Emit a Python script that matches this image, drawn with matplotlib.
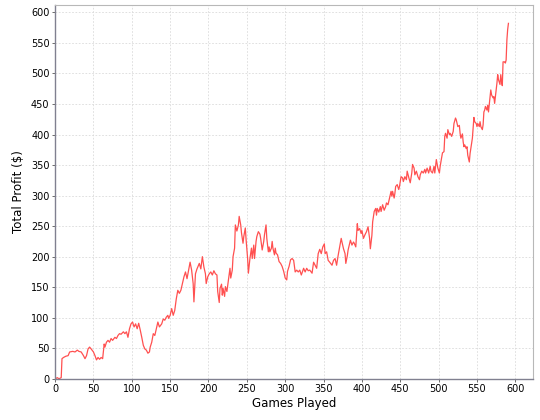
import matplotlib
matplotlib.use("Agg")
import matplotlib.pyplot as plt

# values (game number, running profit in $)
games = [0, 3, 5, 8, 9, 11, 14, 17, 19, 23, 26, 29, 31, 34, 37, 39, 41, 43, 45, 47,
         50, 52, 54, 56, 58, 60, 62, 64, 65, 67, 69, 71, 73, 75, 78, 80, 82, 84, 86, 89,
         91, 93, 95, 97, 99, 101, 103, 105, 107, 109, 111, 113, 115, 117, 119, 121, 123, 124, 126, 128,
         130, 132, 134, 136, 139, 141, 143, 145, 147, 148, 150, 152, 154, 156, 158, 160, 162, 164, 166, 168,
         170, 172, 174, 176, 178, 180, 181, 183, 185, 188, 190, 192, 194, 196, 197, 199, 201, 203, 205, 207,
         209, 211, 212, 214, 215, 217, 218, 219, 221, 222, 224, 226, 228, 229, 231, 232, 234, 235, 237, 239,
         240, 242, 243, 245, 246, 248, 249, 251, 252, 254, 256, 257, 259, 260, 262, 263, 265, 267, 268, 270,
         272, 273, 275, 276, 278, 279, 280, 282, 283, 284, 286, 287, 288, 290, 292, 294, 296, 298, 300, 302,
         303, 305, 307, 309, 311, 313, 315, 317, 319, 321, 324, 326, 328, 330, 332, 335, 337, 339, 341, 343,
         345, 347, 349, 351, 352, 354, 356, 358, 361, 363, 365, 367, 369, 371, 373, 374, 376, 378, 379, 381,
         382, 385, 387, 389, 390, 392, 394, 395, 397, 399, 400, 402, 404, 406, 408, 410, 411, 413, 414, 416,
         418, 419, 420, 422, 424, 425, 427, 429, 431, 432, 434, 436, 438, 439, 440, 442, 443, 444, 446, 448,
         449, 451, 453, 454, 456, 458, 459, 461, 463, 465, 466, 468, 469, 471, 473, 475, 476, 478, 480, 482,
         483, 485, 487, 489, 490, 492, 494, 495, 497, 499, 501, 502, 504, 505, 507, 508, 509, 511, 512, 514,
         515, 517, 519, 520, 522, 523, 525, 527, 528, 529, 531, 532, 533, 534, 536, 537, 538, 540, 541, 542,
         544, 545, 546, 547, 549, 550, 551, 553, 554, 555, 557, 558, 559, 560, 561, 563, 564, 565, 567, 568,
         569, 571, 572, 573, 574, 576, 577, 578, 580, 581, 582, 583, 584, 586, 587, 588, 589, 590, 591]
profit = [0, 2, 0, 2, 33, 35, 37, 38, 44, 45, 44, 47, 45, 44, 38, 33, 38, 49, 52, 49,
          44, 38, 31, 35, 32, 35, 33, 57, 52, 60, 63, 60, 66, 63, 68, 66, 71, 74, 73, 77,
          74, 77, 68, 82, 90, 93, 85, 90, 82, 91, 80, 68, 55, 49, 47, 42, 44, 52, 60, 74,
          71, 82, 93, 85, 90, 98, 96, 101, 104, 99, 104, 115, 104, 112, 131, 145, 140, 145, 156, 167,
          175, 164, 178, 191, 178, 156, 126, 172, 180, 189, 180, 200, 183, 172, 156, 167, 172, 175, 170, 177,
          172, 170, 143, 125, 148, 155, 137, 148, 135, 151, 143, 162, 181, 165, 178, 200, 214, 252, 242, 252,
          266, 252, 239, 222, 233, 247, 228, 197, 173, 197, 214, 197, 219, 197, 225, 233, 241, 237, 230, 211,
          225, 236, 252, 230, 208, 216, 208, 214, 225, 214, 203, 214, 206, 203, 192, 189, 184, 176, 165, 162,
          176, 184, 195, 197, 194, 175, 178, 175, 178, 170, 181, 175, 181, 177, 178, 173, 191, 186, 181, 205,
          212, 205, 216, 221, 205, 208, 194, 191, 186, 194, 197, 186, 202, 216, 230, 224, 213, 205, 189, 202,
          211, 227, 219, 224, 222, 216, 254, 243, 246, 238, 243, 230, 236, 241, 249, 230, 213, 235, 257, 274,
          279, 268, 279, 273, 282, 274, 285, 276, 282, 288, 285, 296, 307, 299, 307, 296, 304, 315, 318, 310,
          315, 331, 329, 323, 331, 326, 340, 330, 321, 337, 351, 345, 334, 340, 331, 326, 334, 340, 337, 343,
          337, 345, 337, 348, 340, 337, 348, 337, 359, 345, 337, 348, 362, 370, 372, 397, 402, 394, 408, 400,
          402, 397, 405, 418, 427, 424, 413, 415, 402, 394, 401, 388, 380, 383, 377, 380, 366, 355, 369, 377,
          394, 410, 428, 421, 418, 413, 418, 413, 421, 413, 408, 416, 437, 440, 446, 440, 448, 437, 460, 473,
          465, 460, 462, 451, 462, 484, 498, 490, 482, 498, 487, 480, 519, 519, 517, 522, 555, 572, 582]

x_ticks = list(range(0, 601, 50))
y_ticks = list(range(0, 601, 50))

fig = plt.figure(figsize=(5.4, 4.2), dpi=100)
ax = fig.add_axes([0.102, 0.098, 0.885, 0.89])

ax.plot(games, profit, color="#ff5050", linewidth=0.9)

ax.set_xlim(0, 623)
ax.set_ylim(0, 612)
ax.set_xticks(x_ticks)
ax.set_yticks(y_ticks)
ax.grid(True, color="#dadada", linestyle=(0, (2, 2)), linewidth=0.6)
ax.set_axisbelow(True)

for side in ("top", "right"):
    ax.spines[side].set_color("#b8b8b8")
    ax.spines[side].set_linewidth(0.8)
for side in ("left", "bottom"):
    ax.spines[side].set_color("#808090")
    ax.spines[side].set_linewidth(1.0)

ax.tick_params(axis="both", labelsize=7, colors="#555555", length=2, width=0.6, pad=2)
for lbl in ax.get_xticklabels() + ax.get_yticklabels():
    lbl.set_color("black")

ax.set_xlabel("Games Played", fontsize=8.5, labelpad=2)
ax.set_ylabel("Total Profit ($)", fontsize=8.5, labelpad=4)

fig.savefig("out.png", dpi=100)
